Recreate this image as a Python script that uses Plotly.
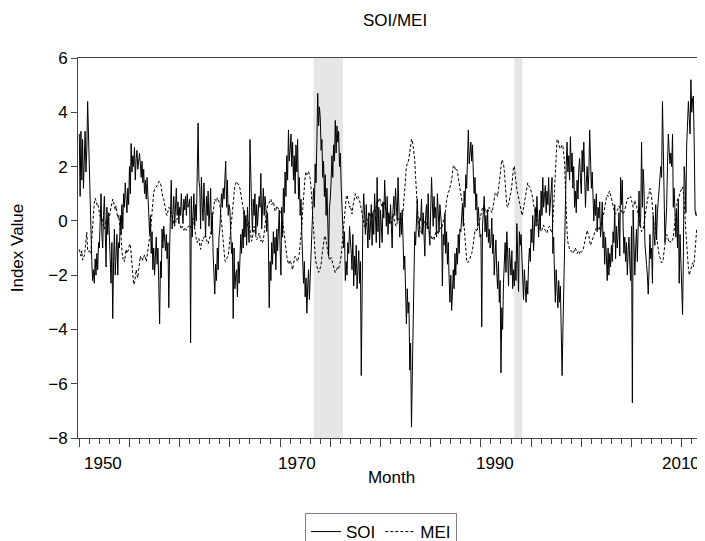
"""SOI / MEI monthly index chart (EViews-style) rebuilt with Plotly."""

import pandas as pd
import plotly.graph_objects as go

# monthly values, Jan 1950 .. Apr 2012 (one row per year)
soi_values = [
    3.2, 0.9, 3.3, 1.5, 3.0, 1.2, 2.2, 3.3, 1.8, 2.6, 4.4, 3.0,  # 1950
    1.5, 0.2, -1.0, -1.5, -2.2, -1.8, -2.3, -1.4, -2.0, -1.2, -1.8, -0.8,
    -1.0, 0.3, 1.0, -0.5, -1.0, 0.2, 0.9, -0.3, -1.7, 0.5, -0.5, 0.3,
    -0.5, -1.2, -2.3, -0.8, -3.6, -1.5, -0.3, -2.0, -1.3, -0.5, -2.0, -0.8,
    -1.0, 0.2, -0.5, 0.6, -0.3, 1.0, 0.5, 1.4, 0.8, 0.3, 1.2, 0.6,
    2.0, 1.0, 2.85, 1.8, 2.4, 2.0, 2.7, 1.5, 2.3, 2.6, 1.9, 2.2,  # 1955
    2.5, 2.1, 1.6, 2.2, 1.4, 1.9, 1.0, 1.5, 0.8, 1.6, 0.5, 0.3,
    -0.5, 0.2, -1.2, -0.4, -1.8, -1.0, -2.0, -1.2, -0.6, -1.6, -1.0, -2.3,
    -3.8, -1.5, -2.1, -0.3, -1.0, -0.2, -0.6, -1.1, -0.5, -1.4, -0.8, -3.2,
    -1.0, 0.8, 1.5, -0.3, 0.5, 0.9, -0.2, 0.4, 1.2, 0.2, 0.7, -0.1,
    0.5, 0.2, 1.0, 0.3, -0.1, 0.8, 0.4, 0.9, 0.2, 1.0, 0.5, 0.6,  # 1960
    0.8, -4.5, 0.9, -0.6, 0.4, 1.0, -0.2, 0.6, 0.0, 1.8, 3.6, 1.5,
    1.2, -0.3, 1.6, 0.5, 0.0, 1.4, 0.3, -0.6, 0.9, 0.2, 1.1, -0.2,
    0.4, 1.2, -0.5, 0.3, -1.2, -2.0, -2.7, -1.6, -2.2, -1.0, -1.8, -0.6,
    -0.3, 0.4, 1.0, 0.5, 1.2, 0.8, 1.7, 2.2, 0.5, 1.5, 0.2, 0.6,
    0.4, -0.5, -1.2, -0.8, -3.6, -1.0, -2.5, -2.0, -1.8, -2.8, -1.5, -2.3,  # 1965
    -1.6, -0.5, -1.2, -0.3, -1.0, 0.4, -0.6, 0.2, -0.9, 0.5, -0.2, -0.8,
    3.0, 1.2, 0.5, -0.4, 0.8, 0.2, 1.0, -0.5, 0.6, -0.2, 0.4, 0.9,
    0.5, 1.75, -0.3, 0.8, 1.2, 0.2, 0.9, 0.5, -0.4, 0.3, -0.8, -3.2,
    -1.5, -2.2, -0.8, -1.6, -0.4, -1.2, -0.6, -1.8, -0.3, -1.1, -0.2, 0.4,
    -1.0, -2.0, 0.5, -0.6, 1.2, 0.3, 1.8, 0.9, 2.4, 1.5, 3.35, 2.2,  # 1970
    2.6, 3.2, 2.0, 2.9, 1.5, 2.4, 1.0, 2.8, 1.8, 3.0, 0.8, 1.6,
    0.2, 0.8, -0.5, -1.6, -2.3, -1.5, -2.8, -2.1, -3.4, -2.4, -1.8, -2.9,
    -2.2, -1.0, -0.3, 0.4, 1.2, 0.5, 2.1, 1.4, 3.0, 4.7, 3.5, 4.2,
    3.8, 2.6, 3.0, 1.6, 2.2, 0.9, 1.7, 0.2, 1.2, -0.3, -1.3, 0.5,
    0.8, 1.5, 2.4, 1.6, 2.8, 2.2, 3.7, 2.5, 3.5, 2.9, 3.3, 2.0,  # 1975
    2.5, 1.3, 0.4, -0.6, -1.0, -0.4, -2.2, -1.5, -2.0, -0.8, -1.2, -0.2,
    -0.6, -1.2, -1.8, -0.5, -2.4, -1.3, -2.0, -0.9, -2.5, -1.6, -1.1, -2.3,
    -1.5, -5.7, -0.8, 0.2, 1.0, 0.4, -0.5, 0.6, -0.3, -1.0, 0.3, -0.7,
    -0.2, 0.6, -0.9, 0.3, -0.5, 1.0, 0.2, -0.8, 1.6, -0.4, 0.5, -1.0,
    0.4, -0.3, -0.8, 0.7, 0.1, 1.5, 0.5, -0.2, 0.9, -0.5, 0.3, -0.1,  # 1980
    0.6, -0.2, -1.0, 0.4, 0.9, 0.2, 1.2, 0.5, 0.0, 1.6, 0.4, -0.6,
    0.3, -0.5, 0.4, -1.0, -1.8, -1.3, -2.5, -3.8, -2.5, -3.4, -3.0, -5.5,
    -4.5, -7.6, -5.8, -3.5, -1.8, -0.4, -0.9, 0.2, 0.8, -0.3, -0.6, 0.1,
    0.0, 0.8, -0.5, 0.3, -0.8, -1.3, 0.2, 0.6, -0.3, 1.0, -0.4, -0.9,
    0.4, 1.6, 0.7, -0.2, 0.9, 0.1, 0.5, -0.6, 1.0, 0.2, -0.4, 0.6,  # 1985
    0.3, -0.2, -2.4, -0.5, -0.9, 0.3, -1.2, -0.4, -1.6, -0.8, -2.1, -3.0,
    -2.0, -3.3, -2.7, -1.8, -2.5, -1.2, -2.0, -1.0, -1.6, -0.5, -1.2, -0.3,
    -0.4, 0.2, 0.6, -0.2, 1.1, 0.5, 1.7, 1.2, 2.4, 3.35, 2.1, 2.7,
    2.9, 2.2, 2.8, 1.7, 1.0, 1.6, 0.4, 1.0, -0.2, 0.5, 0.0, -0.6,
    -0.5, -3.9, -0.2, 0.3, 0.9, -0.4, 0.2, -0.6, 0.4, -0.8, -0.3, -1.0,  # 1990
    -0.8, 0.1, -1.2, -0.5, -2.0, -1.3, -0.7, -1.9, -2.5, -1.5, -3.0, -2.2,
    -5.6, -3.2, -4.0, -2.3, -1.6, -0.8, -1.9, -0.4, -1.2, -2.4, -1.0, -1.6,
    -2.0, -1.1, -2.5, -1.8, -2.4, -1.5, -2.2, -0.1, -1.6, -2.6, -0.4, -0.9,
    -0.5, -1.2, -2.0, -2.9, -1.8, -2.4, -3.0, -2.2, -2.7, -1.6, -1.0, -1.5,
    -0.3, -0.8, 0.2, -1.1, -0.4, 0.5, -0.2, 0.9, 0.1, -0.6, 0.4, -0.3,  # 1995
    1.1, 0.2, 1.6, 0.5, 0.9, 1.3, 0.3, 1.1, 0.6, 1.6, 0.2, 0.8,
    0.9, 1.6, -1.2, -0.6, -2.0, -3.0, -1.8, -2.5, -3.2, -2.2, -3.0, -2.4,
    -4.7, -5.7, -4.2, -2.5, -0.2, 1.0, 2.0, 2.9, 1.8, 2.4, 1.5, 3.1,
    1.8, 2.5, 1.2, 2.0, 0.5, 1.1, 0.3, 1.5, 0.8, 1.9, 2.3, 1.6,
    1.0, 2.6, 1.8, 2.9, 1.2, 0.5, 1.4, 2.0, 1.1, 1.7, 3.35, 1.5,  # 2000
    1.2, 1.8, 0.6, 0.0, 0.8, 0.2, 1.0, -0.4, 0.5, 0.1, 0.7, -0.6,
    -0.2, 0.7, -1.0, -0.4, -1.6, -0.6, -1.3, -2.2, -1.0, -2.0, -1.2, -1.7,
    -0.9, -1.5, -0.4, -0.8, 0.6, -1.4, -0.2, -1.0, -0.5, 0.3, -1.3, 1.6,
    0.6, 1.5, -0.2, -1.2, -0.6, -1.5, -0.8, -2.0, -1.1, -0.6, -1.6, -2.2,
    -0.2, -6.7, 0.4, -1.4, -2.0, -1.0, -0.3, -1.5, 0.6, 1.1, -0.2, 0.1,  # 2005
    2.9, 0.5, 1.9, 1.2, -0.8, -1.1, -1.6, -2.0, -2.7, -1.8, -0.5, -1.4,
    -1.0, -2.3, 0.2, -0.5, -0.9, 0.6, -0.7, 0.3, 0.9, 1.2, 1.6, 2.0,
    1.6, 4.4, 2.5, 0.8, -0.8, -0.2, 0.5, 2.0, 3.2, 2.6, 2.1, 2.5,
    2.0, 3.2, 0.5, 1.2, -0.3, -0.6, 0.4, -1.0, 0.8, -2.3, -0.5, -1.5,
    -2.0, -3.45, -1.4, 2.0, 1.5, 0.3, 2.8, 3.6, 4.4, 3.8, 3.2, 5.2,  # 2010
    4.0, 4.5, 4.6, 2.8, 0.4, 0.2, 0.2, 0.4, 2.3, 1.5, 2.6, 4.4,
    1.5, 0.6, 0.3, -0.5,
]

mei_values = [
    -1.05, -1.15, -1.30, -1.10, -1.45, -1.35, -1.30, -1.05, -0.60, -0.42, -1.10, -1.15,  # 1950
    -1.10, -1.20, -1.15, -0.50, -0.30, 0.25, 0.65, 0.83, 0.75, 0.60, 0.65, 0.45,
    0.30, 0.15, 0.05, 0.15, -0.10, -0.25, -0.30, -0.15, 0.05, 0.00, -0.15, 0.05,
    0.15, 0.35, 0.55, 0.70, 0.80, 0.70, 0.45, 0.40, 0.55, 0.35, 0.10, 0.20,
    0.00, -0.25, -0.55, -1.10, -1.40, -1.35, -1.50, -1.30, -1.05, -1.20, -1.10, -1.05,
    -0.85, -0.90, -1.20, -1.60, -2.00, -2.35, -2.30, -2.05, -1.80, -2.00, -2.10, -1.80,  # 1955
    -1.50, -1.30, -1.40, -1.35, -1.45, -1.30, -1.25, -1.35, -1.50, -1.30, -1.10, -0.95,
    -0.60, -0.40, -0.05, 0.35, 0.80, 1.05, 1.15, 1.20, 1.25, 1.30, 1.35, 1.45,
    1.45, 1.40, 1.20, 0.90, 0.85, 0.80, 0.60, 0.45, 0.25, 0.20, 0.35, 0.50,
    0.45, 0.40, 0.30, 0.20, 0.05, -0.10, -0.05, 0.00, -0.05, 0.10, 0.05, -0.05,
    -0.15, -0.25, -0.30, -0.20, -0.30, -0.35, -0.25, -0.30, -0.35, -0.25, -0.20, -0.15,  # 1960
    -0.15, -0.25, -0.20, -0.10, 0.10, 0.00, -0.30, -0.55, -0.70, -0.80, -0.75, -0.65,
    -0.90, -1.05, -0.80, -0.70, -0.75, -0.55, -0.50, -0.55, -0.70, -0.80, -0.85, -0.75,
    -0.65, -0.50, -0.20, 0.05, 0.30, 0.55, 0.80, 0.75, 0.70, 0.85, 0.80, 0.70,
    0.60, 0.30, -0.05, -0.50, -0.85, -1.20, -1.45, -1.50, -1.40, -1.35, -1.25, -1.00,
    -0.70, -0.40, -0.10, 0.25, 0.60, 1.00, 1.30, 1.40, 1.45, 1.40, 1.35, 1.30,  # 1965
    1.20, 1.00, 0.75, 0.55, 0.30, 0.15, 0.05, 0.10, -0.10, -0.20, -0.10, -0.05,
    -0.30, -0.50, -0.75, -0.60, -0.40, -0.20, -0.40, -0.55, -0.70, -0.65, -0.50, -0.45,
    -0.60, -0.75, -0.70, -0.80, -0.70, -0.40, -0.05, 0.15, 0.35, 0.55, 0.60, 0.70,
    0.75, 0.80, 0.60, 0.65, 0.70, 0.55, 0.35, 0.40, 0.55, 0.50, 0.45, 0.40,
    0.35, 0.30, 0.10, 0.00, -0.20, -0.55, -0.85, -1.05, -1.30, -1.45, -1.60, -1.55,  # 1970
    -1.45, -1.55, -1.75, -1.80, -1.60, -1.40, -1.30, -1.35, -1.45, -1.50, -1.35, -1.20,
    -0.85, -0.55, -0.20, 0.40, 0.90, 1.35, 1.65, 1.80, 1.70, 1.75, 1.82, 1.70,
    1.55, 1.20, 0.70, 0.20, -0.40, -0.90, -1.30, -1.55, -1.70, -1.80, -1.90, -1.85,
    -1.75, -1.60, -1.30, -1.00, -0.80, -0.60, -0.55, -0.70, -0.90, -1.15, -1.35, -1.45,
    -1.40, -1.35, -1.45, -1.60, -1.70, -1.80, -1.90, -1.85, -1.80, -1.70, -1.75, -1.65,  # 1975
    -1.50, -1.25, -0.90, -0.50, -0.10, 0.30, 0.60, 0.85, 0.95, 0.80, 0.55, 0.50,
    0.55, 0.40, 0.25, 0.55, 0.75, 0.95, 1.00, 0.90, 0.80, 0.90, 0.85, 0.75,
    0.60, 0.45, 0.30, 0.10, -0.10, -0.20, -0.25, -0.15, -0.05, 0.00, 0.15, 0.30,
    0.25, 0.10, 0.15, 0.30, 0.40, 0.45, 0.35, 0.55, 0.70, 0.65, 0.80, 0.85,
    0.70, 0.55, 0.50, 0.60, 0.70, 0.60, 0.45, 0.25, 0.20, 0.15, 0.25, 0.20,  # 1980
    0.00, -0.15, 0.10, 0.25, 0.10, -0.05, -0.15, -0.20, 0.00, 0.10, 0.00, -0.05,
    -0.10, 0.00, 0.10, 0.35, 0.80, 1.35, 1.70, 2.00, 2.10, 2.15, 2.30, 2.55,
    2.85, 3.00, 3.00, 2.80, 2.60, 2.25, 1.60, 0.90, 0.35, 0.05, -0.10, -0.20,
    -0.35, -0.45, -0.15, 0.10, 0.00, -0.20, -0.25, -0.15, 0.00, -0.15, -0.40, -0.50,
    -0.55, -0.65, -0.70, -0.60, -0.70, -0.55, -0.45, -0.35, -0.40, -0.50, -0.35, -0.30,  # 1985
    -0.25, -0.30, -0.15, -0.10, 0.10, 0.25, 0.40, 0.75, 0.95, 1.05, 1.10, 1.20,
    1.35, 1.50, 1.80, 2.00, 2.05, 1.95, 1.85, 1.90, 1.85, 1.60, 1.40, 1.30,
    1.15, 0.95, 0.60, 0.20, -0.30, -0.80, -1.20, -1.45, -1.55, -1.50, -1.45, -1.40,
    -1.25, -1.20, -1.05, -0.80, -0.55, -0.35, -0.30, -0.40, -0.30, -0.20, -0.05, 0.10,
    0.20, 0.35, 0.50, 0.45, 0.55, 0.40, 0.30, 0.35, 0.45, 0.35, 0.50, 0.45,  # 1990
    0.40, 0.30, 0.40, 0.60, 0.85, 1.00, 1.05, 0.95, 0.90, 1.15, 1.40, 1.80,
    2.10, 2.25, 2.20, 2.10, 1.85, 1.40, 0.95, 0.55, 0.50, 0.60, 0.75, 0.95,
    1.05, 1.30, 1.70, 2.00, 2.00, 1.70, 1.30, 1.15, 1.00, 0.80, 0.65, 0.55,
    0.40, 0.20, 0.30, 0.50, 0.70, 0.90, 1.15, 1.35, 1.40, 1.30, 1.25, 1.20,
    1.10, 1.00, 0.85, 0.60, 0.45, 0.25, 0.10, 0.00, -0.10, -0.20, -0.30, -0.35,  # 1995
    -0.40, -0.30, -0.20, -0.15, -0.30, -0.35, -0.40, -0.45, -0.30, -0.25, -0.20, -0.30,
    -0.40, -0.45, -0.10, 0.60, 1.40, 2.20, 2.75, 3.00, 3.00, 2.80, 2.70, 2.65,
    2.70, 2.80, 2.75, 2.55, 2.20, 1.20, 0.20, -0.40, -0.80, -1.00, -1.05, -1.10,
    -1.10, -1.15, -1.20, -1.15, -1.05, -1.00, -1.10, -1.20, -1.15, -1.10, -1.20, -1.10,
    -1.15, -1.10, -1.10, -0.95, -0.80, -0.60, -0.50, -0.35, -0.45, -0.55, -0.75, -0.90,  # 2000
    -0.80, -0.70, -0.60, -0.55, -0.45, -0.30, -0.25, -0.20, -0.30, -0.35, -0.25, -0.15,
    -0.10, 0.05, 0.15, 0.30, 0.55, 0.75, 0.85, 0.95, 0.90, 1.05, 1.10, 0.95,
    0.85, 0.70, 0.55, 0.40, 0.30, 0.25, 0.30, 0.35, 0.45, 0.55, 0.50, 0.40,
    0.35, 0.30, 0.25, 0.30, 0.40, 0.55, 0.70, 0.80, 0.85, 0.80, 0.85, 0.90,
    0.75, 0.55, 0.50, 0.60, 0.75, 0.60, 0.55, 0.40, 0.25, 0.05, -0.15, -0.30,  # 2005
    -0.40, -0.35, -0.30, -0.10, 0.15, 0.35, 0.55, 0.75, 0.90, 1.00, 1.20, 1.05,
    0.90, 0.50, 0.15, -0.10, -0.25, -0.35, -0.60, -0.85, -1.10, -1.25, -1.35, -1.45,
    -1.55, -1.50, -1.40, -1.10, -0.80, -0.65, -0.50, -0.55, -0.70, -0.80, -0.75, -0.80,
    -0.75, -0.70, -0.60, -0.30, 0.10, 0.40, 0.65, 0.80, 0.85, 0.90, 1.05, 1.10,
    1.15, 1.25, 1.10, 0.75, 0.20, -0.40, -1.00, -1.45, -1.75, -2.00, -1.90, -1.75,  # 2010
    -1.65, -1.55, -1.70, -1.50, -1.10, -0.60, -0.30, -0.45, -0.70, -0.95, -1.05, -1.00,
    -0.95, -0.85, -0.70, -0.50,
]

# grey bands
shade_start = ["1973-05-01", "1993-05-01"]
shade_end = ["1976-04-01", "1994-02-15"]

year_labels = [1950, 1970, 1990, 2010]
label_shift = [24, 17, 14, -1]  # px, labels sit right of their tick like EViews does

months = pd.date_range("1950-01-01", periods=len(soi_values), freq="MS")
FONT = "Liberation Sans, Arial, sans-serif"

fig = go.Figure()
fig.add_trace(go.Scatter(x=months, y=soi_values, name="SOI", mode="lines",
                         line=dict(color="black", width=1)))
fig.add_trace(go.Scatter(x=months, y=mei_values, name="MEI", mode="lines",
                         line=dict(color="black", width=1, dash="3px,2px")))

for s, e in zip(shade_start, shade_end):
    fig.add_vrect(x0=s, x1=e, fillcolor="#e6e6e6", opacity=1, line_width=0, layer="below")

for yr, dx in zip(year_labels, label_shift):
    fig.add_annotation(x=f"{yr}-01-01", y=0, xref="x", yref="paper", text=str(yr),
                       showarrow=False, xanchor="center", yanchor="top",
                       xshift=dx, yshift=-14, font=dict(size=17, color="black", family=FONT))

five_years = [f"{y}-01-01" for y in range(1950, 2015, 5)]
fig.update_xaxes(
    type="date", range=["1949-11-15", "2012-04-27"],
    tickmode="array", tickvals=five_years, showticklabels=False,
    ticks="outside", ticklen=8, tickcolor="#444",
    minor=dict(dtick="M12", tick0="1950-01-01", ticks="outside", ticklen=5, tickcolor="#444"),
    showgrid=False, zeroline=False, showline=True, linecolor="#444", mirror=True,
    title=dict(text="Month", standoff=25, font=dict(size=17, color="black")),
    automargin=False,
)
fig.update_yaxes(
    range=[-8, 6], dtick=2, ticks="outside", ticklen=6, tickcolor="#444",
    showgrid=False, zeroline=False, showline=True, linecolor="#444",
    tickfont=dict(size=17, color="black"),
    title=dict(text="Index Value", standoff=29, font=dict(size=17, color="black")),
    automargin=False,
)
# the page body adds an 8px offset, so the figure is drawn 8px smaller than the window
fig.update_layout(
    width=697, height=533, template="plotly_white",
    paper_bgcolor="white", plot_bgcolor="white",
    font=dict(family=FONT, size=17, color="black"),
    margin=dict(l=70, r=0, t=50, b=103, autoexpand=False),
    title=dict(text="SOI/MEI", x=387 / 697, xref="container", xanchor="center",
               y=1 - 12 / 533, yanchor="middle", font=dict(size=17)),
    legend=dict(orientation="h", x=297 / 697, xref="container", xanchor="left",
                y=28 / 533, yref="container", yanchor="top",
                bordercolor="#808080", borderwidth=1, bgcolor="white",
                font=dict(size=17), itemwidth=30),
    showlegend=True,
)
fig.write_html("out.html", config={"displayModeBar": False})
